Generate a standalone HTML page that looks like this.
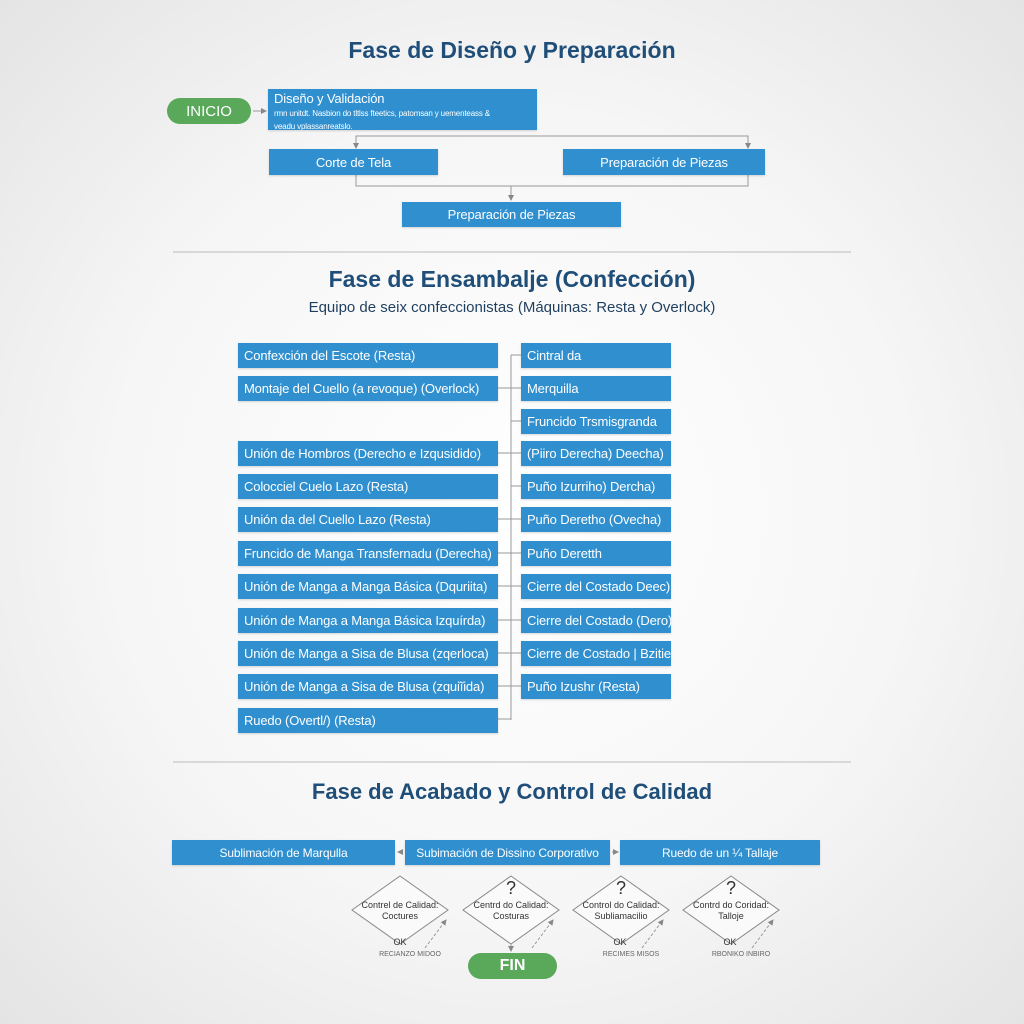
<!DOCTYPE html>
<html><head><meta charset="utf-8"><style>
body{margin:0;width:1024px;height:1024px;position:relative;overflow:hidden;font-family:"Liberation Sans",sans-serif;background:radial-gradient(ellipse at center,#ffffff 0%,#f6f6f6 55%,#e4e4e4 100%);}
.b{position:absolute;background:#2f8fcf;color:#fff;font-size:13px;letter-spacing:-0.15px;box-sizing:border-box;display:flex;align-items:center;box-shadow:0 1px 2px rgba(0,0,0,.15);white-space:nowrap;overflow:hidden}
.c{justify-content:center}
.l{padding-left:6px}
.t{position:absolute;width:1024px;text-align:center;color:#1f4e79;font-weight:bold}
.pill{position:absolute;background:#5aa85a;color:#fff;border-radius:14px;display:flex;align-items:center;justify-content:center}
svg{position:absolute;left:0;top:0}
.sm{position:absolute;font-size:9px;color:#333;text-align:center;line-height:11px}
</style></head><body>
<svg width="1024" height="1024">
<defs><marker id="a" markerWidth="6" markerHeight="6" refX="5" refY="3" orient="auto"><path d="M0,0L6,3L0,6z" fill="#888"/></marker></defs>
<g stroke="#999" stroke-width="1" fill="none">
<line x1="253" y1="111" x2="266" y2="111" marker-end="url(#a)"/>
<polyline points="356,147 356,136 748,136 748,147" />
<line x1="356" y1="140" x2="356" y2="148" marker-end="url(#a)"/>
<line x1="748" y1="140" x2="748" y2="148" marker-end="url(#a)"/>
<polyline points="356,175 356,186 748,186 748,175"/>
<line x1="511" y1="186" x2="511" y2="200" marker-end="url(#a)"/>
<line x1="173" y1="252" x2="851" y2="252" stroke="#bbb"/>
<line x1="173" y1="762" x2="851" y2="762" stroke="#bbb"/>
<line x1="511" y1="355" x2="511" y2="720"/>
<line x1="511" y1="355" x2="521" y2="355"/>
<line x1="498" y1="388" x2="521" y2="388"/><line x1="511" y1="421" x2="521" y2="421"/>
<line x1="498" y1="453" x2="521" y2="453"/><line x1="511" y1="486" x2="521" y2="486"/>
<line x1="498" y1="519" x2="521" y2="519"/><line x1="498" y1="553" x2="521" y2="553"/>
<line x1="498" y1="586" x2="521" y2="586"/><line x1="498" y1="620" x2="521" y2="620"/>
<line x1="498" y1="653" x2="521" y2="653"/><line x1="498" y1="686" x2="521" y2="686"/>
<line x1="498" y1="719" x2="511" y2="719"/>
<line x1="403" y1="852" x2="398" y2="852" marker-end="url(#a)"/>
<line x1="612" y1="852" x2="618" y2="852" marker-end="url(#a)"/>
<g fill="#fafafa" stroke="#888">
<polygon points="400,876 448,910 400,944 352,910"/>
<polygon points="511,876 559,910 511,944 463,910"/>
<polygon points="621,876 669,910 621,944 573,910"/>
<polygon points="731,876 779,910 731,944 683,910"/>
</g>
<line x1="511" y1="944" x2="511" y2="951" marker-end="url(#a)"/>
<g stroke-dasharray="3,2">
<line x1="425" y1="948" x2="446" y2="920" marker-end="url(#a)"/>
<line x1="532" y1="948" x2="553" y2="920" marker-end="url(#a)"/>
<line x1="642" y1="948" x2="663" y2="920" marker-end="url(#a)"/>
<line x1="752" y1="948" x2="773" y2="920" marker-end="url(#a)"/>
</g></g></svg>

<div class="t" style="top:37px;font-size:23px">Fase de Diseño y Preparación</div>
<div class="pill" style="left:167px;top:98px;width:84px;height:26px;font-size:15px">INICIO</div>
<div class="b" style="left:268px;top:89px;width:269px;height:41px;display:block;padding:3px 6px;font-size:13px;line-height:13px">Diseño y Validación<br><span style="font-size:8px;line-height:9px">rmn unitdt. Nasbion do tltlss fteetics, patomsan y uementeass &amp;<br>veadu vplassanreatslo.</span></div>
<div class="b c" style="left:269px;top:149px;width:169px;height:26px">Corte de Tela</div>
<div class="b c" style="left:563px;top:149px;width:202px;height:26px">Preparación de Piezas</div>
<div class="b c" style="left:402px;top:202px;width:219px;height:25px">Preparación de Piezas</div>

<div class="t" style="top:266px;font-size:23px">Fase de Ensambalje (Confección)</div>
<div class="t" style="top:299px;font-size:15px;font-weight:normal;color:#1f3f5f">Equipo de seix confeccionistas (Máquinas: Resta y Overlock)</div>

<div class="b l" style="left:238px;top:343px;width:260px;height:25px">Confexción del Escote (Resta)</div>
<div class="b l" style="left:238px;top:376px;width:260px;height:25px">Montaje del Cuello (a revoque) (Overlock)</div>
<div class="b l" style="left:238px;top:441px;width:260px;height:25px">Unión de Hombros (Derecho e Izqusidido)</div>
<div class="b l" style="left:238px;top:474px;width:260px;height:25px">Colocciel Cuelo Lazo (Resta)</div>
<div class="b l" style="left:238px;top:507px;width:260px;height:25px">Unión da del Cuello Lazo (Resta)</div>
<div class="b l" style="left:238px;top:541px;width:260px;height:25px">Fruncido de Manga Transfernadu (Derecha)</div>
<div class="b l" style="left:238px;top:574px;width:260px;height:25px">Unión de Manga a Manga Básica (Dquriita)</div>
<div class="b l" style="left:238px;top:608px;width:260px;height:25px">Unión de Manga a Manga Básica Izquírda)</div>
<div class="b l" style="left:238px;top:641px;width:260px;height:25px">Unión de Manga a Sisa de Blusa (zqerloca)</div>
<div class="b l" style="left:238px;top:674px;width:260px;height:25px">Unión de Manga a Sisa de Blusa (zquiĩida)</div>
<div class="b l" style="left:238px;top:708px;width:260px;height:25px">Ruedo (Overtl/) (Resta)</div>

<div class="b l" style="left:521px;top:343px;width:150px;height:25px">Cintral da</div>
<div class="b l" style="left:521px;top:376px;width:150px;height:25px">Merquilla</div>
<div class="b l" style="left:521px;top:409px;width:150px;height:25px">Fruncido Trsmisgranda</div>
<div class="b l" style="left:521px;top:441px;width:150px;height:25px">(Piiro Derecha) Deecha)</div>
<div class="b l" style="left:521px;top:474px;width:150px;height:25px">Puño Izurriho) Dercha)</div>
<div class="b l" style="left:521px;top:507px;width:150px;height:25px">Puño Deretho (Ovecha)</div>
<div class="b l" style="left:521px;top:541px;width:150px;height:25px">Puño Deretth</div>
<div class="b l" style="left:521px;top:574px;width:150px;height:25px">Cierre del Costado Deec)</div>
<div class="b l" style="left:521px;top:608px;width:150px;height:25px">Cierre del Costado (Dero)</div>
<div class="b l" style="left:521px;top:641px;width:150px;height:25px">Cierre de Costado | Bzitie</div>
<div class="b l" style="left:521px;top:674px;width:150px;height:25px">Puño Izushr (Resta)</div>

<div class="t" style="top:779px;font-size:22px">Fase de Acabado y Control de Calidad</div>
<div class="b c" style="left:172px;top:840px;width:223px;height:25px;font-size:12px">Sublimación de Marqulla</div>
<div class="b c" style="left:405px;top:840px;width:205px;height:25px;font-size:12px">Subimación de Dissino Corporativo</div>
<div class="b c" style="left:620px;top:840px;width:200px;height:25px;font-size:12px">Ruedo de un ¼ Tallaje</div>

<div class="sm" style="left:352px;top:900px;width:96px">Contrel de Calidad:<br>Coctures</div>
<div class="sm" style="left:463px;top:900px;width:96px">Centrd do Calidad:<br>Costuras</div>
<div class="sm" style="left:573px;top:900px;width:96px">Control do Calidad:<br>Subliamacilio</div>
<div class="sm" style="left:683px;top:900px;width:96px">Contrd do Coridad:<br>Talloje</div>
<div class="sm" style="left:501px;top:879px;width:20px;font-size:18px;line-height:18px">?</div>
<div class="sm" style="left:611px;top:879px;width:20px;font-size:18px;line-height:18px">?</div>
<div class="sm" style="left:721px;top:879px;width:20px;font-size:18px;line-height:18px">?</div>
<div class="sm" style="left:380px;top:937px;width:40px">OK</div>
<div class="sm" style="left:600px;top:937px;width:40px">OK</div>
<div class="sm" style="left:710px;top:937px;width:40px">OK</div>
<div class="sm" style="left:365px;top:949px;width:90px;font-size:7px;color:#666">RECIANZO MIDOO</div>
<div class="sm" style="left:586px;top:949px;width:90px;font-size:7px;color:#666">RECIMES MISOS</div>
<div class="sm" style="left:696px;top:949px;width:90px;font-size:7px;color:#666">RBONIKO INBIRO</div>
<div class="pill" style="left:468px;top:953px;width:89px;height:26px;font-size:16px;font-weight:bold">FIN</div>
</body></html>
